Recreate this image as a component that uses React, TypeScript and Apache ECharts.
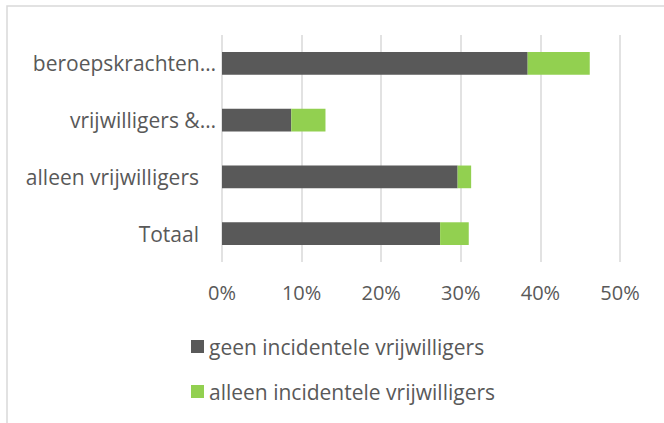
import React, { useEffect, useRef } from "react";
import * as echarts from "echarts";

const categories = ["beroepskrachten…", "vrijwilligers &…", "alleen vrijwilligers", "Totaal"];
const geenIncidentele = [38.4, 8.7, 29.6, 27.4];
const alleenIncidentele = [7.8, 4.3, 1.7, 3.6];
const seriesNames = ["geen incidentele vrijwilligers", "alleen incidentele vrijwilligers"];
const xTicks = [0, 10, 20, 30, 40, 50];

export default function App() {
  const ref = useRef<HTMLDivElement>(null);
  useEffect(() => {
    document.body.style.margin = "0";
    const chart = echarts.init(ref.current!, null, { renderer: "svg" });
    const font = "Open Sans";
    chart.setOption({
      animation: false,
      backgroundColor: "#ffffff",
      textStyle: { fontFamily: font },
      graphic: [
        {
          type: "rect",
          shape: { x: 7, y: 6, width: 720, height: 500 },
          style: { fill: "none", stroke: "#d9d9d9", lineWidth: 1.5 },
          silent: true,
        },
      ],
      grid: { left: 222, right: 44, top: 35, bottom: 161, containLabel: false },
      xAxis: {
        type: "value",
        min: xTicks[0],
        max: xTicks[xTicks.length - 1],
        interval: 10,
        axisLine: { show: false },
        axisTick: { show: false },
        splitLine: { show: true, lineStyle: { color: "#d9d9d9", width: 1.5 } },
        axisLabel: {
          formatter: (v: number) => `${v}%`,
          color: "#595959",
          fontSize: 20,
          fontFamily: font,
          margin: 20,
        },
      },
      yAxis: {
        type: "category",
        data: categories,
        inverse: true,
        axisLine: { show: false },
        axisTick: { show: false },
        axisLabel: {
          color: "#595959",
          fontSize: 21,
          fontFamily: font,
          margin: 6,
          formatter: (v: string) => (v.endsWith("…") ? `{a|${v}}` : `{b|${v}}`),
          rich: {
            a: { color: "#595959", fontSize: 21, fontFamily: font },
            b: { color: "#595959", fontSize: 21, fontFamily: font, padding: [0, 17, 0, 0] },
          },
        },
      },
      legend: {
        orient: "vertical",
        left: 186,
        top: 331,
        itemWidth: 13,
        itemHeight: 13,
        itemGap: 24,
        icon: "rect",
        textStyle: { color: "#595959", fontSize: 21, fontFamily: font },
        data: seriesNames,
      },
      series: [
        {
          name: seriesNames[0],
          type: "bar",
          stack: "total",
          data: geenIncidentele,
          barCategoryGap: "60%",
          itemStyle: { color: "#595959" },
        },
        {
          name: seriesNames[1],
          type: "bar",
          stack: "total",
          data: alleenIncidentele,
          barCategoryGap: "60%",
          itemStyle: { color: "#92d050" },
        },
      ],
    });
    return () => chart.dispose();
  }, []);
  return <div ref={ref} style={{ position: "fixed", left: 0, top: 0, width: 664, height: 423 }} />;
}
